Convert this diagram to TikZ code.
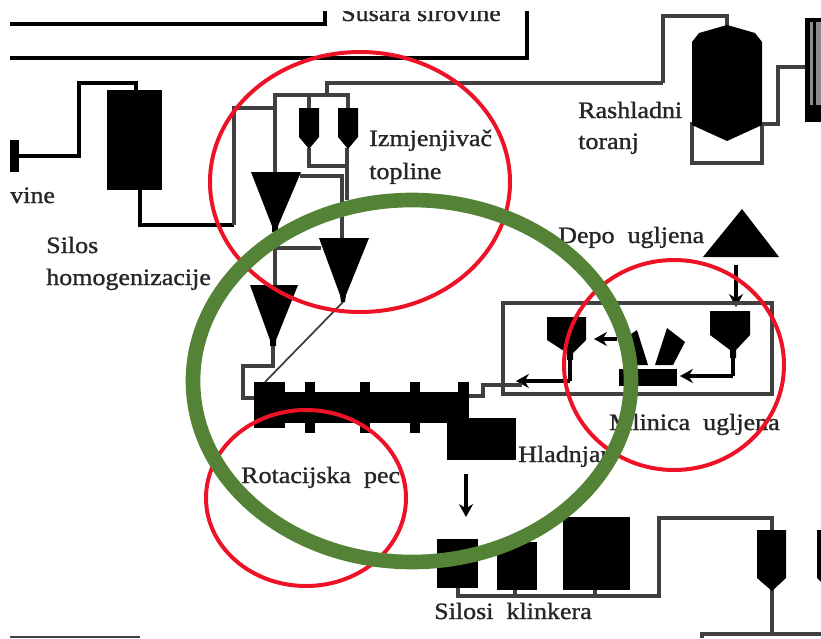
\documentclass[tikz,border=0pt]{standalone}
\usepackage{fontspec}
\usepackage{xcolor}
\setmainfont[FakeStretch=1.11,FakeBold=1.2]{Liberation Serif}
\definecolor{scheme}{rgb}{0.33,0.51,0.21}
\definecolor{ring}{rgb}{0.93,0.07,0.15}
\definecolor{pipecol}{rgb}{0.25,0.25,0.25}
\tikzset{
	pipe/.style={draw=pipecol,line width=2.6pt,line join=miter},
	heavy/.style={draw=black,line width=3.4pt},
	thinpipe/.style={draw=pipecol,line width=1.5pt},
	feed/.style={draw=black,line width=2.8pt,-{Stealth[length=11pt,width=12pt]}},
	solid block/.style={fill=black,draw=none,inner sep=0pt,anchor=north west},
	lbl/.style={font=\fontsize{20}{20}\selectfont,text=black!85,inner sep=0pt,anchor=base west},
	redring/.style={draw=ring,line width=3.4pt},
}
\usetikzlibrary{arrows.meta}

\begin{document}
\begin{tikzpicture}[x=0.03cm,y=-0.03cm]
	\useasboundingbox (0,0) rectangle (821,638);
	\clip (10,11) rectangle (821,638);

	% top frames
	\coordinate (t1) at (10,24);
	\coordinate (t2) at (325,24);
	\coordinate (t3) at (325,5);
	\coordinate (t4) at (10,58);
	\coordinate (t5) at (527,58);
	\coordinate (t6) at (527,5);
	\draw[heavy] (t1) -- (t2) -- (t3);
	\draw[heavy] (t4) -- (t5) -- (t6);
	\node[lbl] (susara) at (341,21) {Susara sirovine};

	% homogenisation silo
	\coordinate (s1) at (19,156);
	\coordinate (s2) at (79,156);
	\coordinate (s3) at (79,83);
	\coordinate (s4) at (136,83);
	\coordinate (s5) at (136,92);
	\coordinate (s6) at (140,188);
	\coordinate (s7) at (140,225);
	\coordinate (s8) at (234,225);
	\coordinate (s9) at (234,108);
	\coordinate (s10) at (275,108);
	\draw[heavy] (s1) -- (s2) -- (s3) -- (s4) -- (s5);
	\draw[heavy] (s6) -- (s7) -- (s8);
	\draw[pipe] (s8) -- (s9) -- (s10);
	\node[solid block,minimum width=9*0.03cm,minimum height=32*0.03cm] (stub) at (10,140) {};
	\node[solid block,minimum width=55*0.03cm,minimum height=100*0.03cm] (silo) at (107,90) {};
	\node[lbl] (vine) at (10,203) {vine};
	\node[lbl] (silos) at (46,253) {Silos};
	\node[lbl] (homog) at (46,285) {homogenizacije};

	% heat exchanger
	\coordinate (h1) at (663,83);
	\coordinate (h2) at (327,83);
	\coordinate (h3) at (327,95);
	\coordinate (h4) at (275,95);
	\coordinate (h5) at (348,95);
	\coordinate (h6) at (275,174);
	\coordinate (h7) at (309,95);
	\coordinate (h8) at (309,110);
	\coordinate (h9) at (348,110);
	\coordinate (h10) at (309,148);
	\coordinate (h11) at (309,166);
	\coordinate (h12) at (347,166);
	\coordinate (h13) at (347,148);
	\coordinate (h14) at (347,200);
	\coordinate (h15) at (300,176);
	\coordinate (h16) at (342,176);
	\coordinate (h17) at (342,240);
	\coordinate (h18) at (275,230);
	\coordinate (h19) at (275,287);
	\coordinate (h20) at (275,248);
	\coordinate (h21) at (321,248);
	\coordinate (h22) at (273,344);
	\coordinate (h23) at (273,366);
	\coordinate (h24) at (243,366);
	\coordinate (h25) at (243,398);
	\coordinate (h26) at (256,398);
	\coordinate (h27) at (343,302);
	\coordinate (h28) at (265,382);
	\draw[pipe] (h1) -- (h2) -- (h3);
	\draw[pipe] (h6) -- (h4) -- (h5) -- (h9);
	\draw[pipe] (h7) -- (h8);
	\draw[pipe] (h10) -- (h11) -- (h12);
	\draw[pipe] (h13) -- (h14);
	\draw[pipe] (h15) -- (h16) -- (h17);
	\draw[pipe] (h18) -- (h19);
	\draw[pipe] (h20) -- (h21);
	\draw[pipe] (h22) -- (h23) -- (h24) -- (h25) -- (h26);
	\draw[thinpipe] (h27) -- (h28);
	\fill (299,108) -- (319,108) -- (319,137) -- (309,149) -- (299,137) -- cycle;
	\fill (338,108) -- (358,108) -- (358,137) -- (348,149) -- (338,137) -- cycle;
	\fill (251,172) -- (301,172) -- (278,226) -- (278,232) -- (272,232) -- (272,226) -- cycle;
	\fill (319,238) -- (369,238) -- (346,295) -- (345,302) -- (341,302) -- (340,295) -- cycle;
	\fill (250,285) -- (298,285) -- (276,340) -- (276,346) -- (270,346) -- (270,340) -- cycle;
	\node[lbl] (izmj) at (369,146) {Izmjenjivač};
	\node[lbl] (topl) at (369,179) {topline};

	% cooling tower
	\coordinate (r1) at (663,83);
	\coordinate (r2) at (663,16);
	\coordinate (r3) at (727,16);
	\coordinate (r4) at (727,27);
	\coordinate (r5) at (692,122);
	\coordinate (r6) at (692,163);
	\coordinate (r7) at (762,163);
	\coordinate (r8) at (762,122);
	\coordinate (r9) at (762,124);
	\coordinate (r10) at (778,124);
	\coordinate (r11) at (778,67);
	\coordinate (r12) at (806,67);
	\draw[pipe] (r1) -- (r2) -- (r3) -- (r4);
	\draw[pipe] (r5) -- (r6) -- (r7) -- (r8);
	\draw[pipe] (r9) -- (r10) -- (r11) -- (r12);
	\fill (727,25) -- (755,33) -- (762,42) -- (762,125) -- (727,141) -- (692,125) -- (692,42) -- (699,33) -- cycle;
	\node[lbl] (rash) at (578,118) {Rashladni};
	\node[lbl] (tor) at (578,149) {toranj};
	\node[solid block,minimum width=16*0.03cm,minimum height=104*0.03cm] (grid) at (805,18) {};
	\fill[black!45] (810,22) rectangle (813,105);
	\fill[black!45] (816,22) rectangle (821,105);

	% coal
	\fill (742,209) -- (779,257) -- (703,257) -- cycle;
	\node[lbl] (depo) at (558,243) {Depo\ \ ugljena};
	\coordinate (c1) at (736,265);
	\coordinate (c2) at (736,307);
	\draw[feed] (c1) -- (c2);
	\coordinate (b1) at (503,303);
	\coordinate (b2) at (772,303);
	\coordinate (b3) at (772,394);
	\coordinate (b4) at (503,394);
	\draw[pipe] (b1) -- (b2) -- (b3) -- (b4) -- cycle;
	\fill (710,311) -- (750,311) -- (750,335) -- (736,350) -- (736,358) -- (730,358) -- (730,350) -- (710,335) -- cycle;
	\fill (547,317) -- (586,317) -- (586,340) -- (573,353) -- (573,360) -- (567,360) -- (567,353) -- (547,340) -- cycle;
	\node[solid block,minimum width=58*0.03cm,minimum height=17*0.03cm] (mill) at (619,369) {};
	\fill (667,328) -- (685,342) -- (673,365) -- (655,365) -- cycle;
	\fill (622,340) -- (637,330) -- (648,365) -- (630,365) -- cycle;
	\coordinate (c3) at (733,350);
	\coordinate (c4) at (733,376);
	\coordinate (c5) at (680,376);
	\draw[line width=3pt] (c3) -- (c4);
	\draw[feed] (c4) -- (c5);
	\coordinate (c6) at (617,339);
	\coordinate (c7) at (594,339);
	\draw[feed] (c6) -- (c7);
	\coordinate (c8) at (570,355);
	\coordinate (c9) at (570,381);
	\coordinate (c10) at (516,381);
	\draw[line width=3pt] (c8) -- (c9);
	\draw[feed] (c9) -- (c10);
	\coordinate (c11) at (469,396);
	\coordinate (c12) at (483,396);
	\coordinate (c13) at (483,385);
	\coordinate (c14) at (522,385);
	\draw[pipe] (c11) -- (c12) -- (c13) -- (c14);
	\node[lbl] (mlin) at (609,430) {Mlinica\ \ ugljena};

	% kiln
	\node[solid block,minimum width=31*0.03cm,minimum height=46*0.03cm] (k1) at (254,382) {};
	\node[solid block,minimum width=215*0.03cm,minimum height=31*0.03cm] (k2) at (254,392) {};
	\node[solid block,minimum width=10*0.03cm,minimum height=51*0.03cm] (k3) at (305,382) {};
	\node[solid block,minimum width=10*0.03cm,minimum height=51*0.03cm] (k4) at (360,382) {};
	\node[solid block,minimum width=10*0.03cm,minimum height=51*0.03cm] (k5) at (410,382) {};
	\node[solid block,minimum width=11*0.03cm,minimum height=40*0.03cm] (k6) at (458,382) {};
	\node[solid block,minimum width=69*0.03cm,minimum height=42*0.03cm] (cool) at (447,418) {};
	\node[lbl] (hlad) at (518,462) {Hladnjar};
	\node[lbl] (rot) at (241,483) {Rotacijska\ \ pec};
	\coordinate (d1) at (466,474);
	\coordinate (d2) at (466,517);
	\draw[feed] (d1) -- (d2);

	% clinker silos
	\node[solid block,minimum width=41*0.03cm,minimum height=49*0.03cm] (k7) at (437,539) {};
	\node[solid block,minimum width=40*0.03cm,minimum height=48*0.03cm] (k8) at (497,542) {};
	\node[solid block,minimum width=67*0.03cm,minimum height=73*0.03cm] (k9) at (563,517) {};
	\coordinate (e1) at (458,588);
	\coordinate (e2) at (458,596);
	\coordinate (e3) at (659,596);
	\coordinate (e4) at (659,518);
	\coordinate (e5) at (772,518);
	\coordinate (e6) at (772,532);
	\coordinate (e7) at (515,590);
	\coordinate (e8) at (515,596);
	\coordinate (e9) at (595,590);
	\coordinate (e10) at (595,596);
	\coordinate (e11) at (772,588);
	\coordinate (e12) at (772,634);
	\coordinate (e13) at (702,638);
	\coordinate (e14) at (702,634);
	\coordinate (e15) at (821,634);
	\draw[pipe] (e1) -- (e2) -- (e3) -- (e4) -- (e5) -- (e6);
	\draw[pipe] (e7) -- (e8);
	\draw[pipe] (e9) -- (e10);
	\draw[pipe] (e11) -- (e12);
	\draw[pipe] (e13) -- (e14) -- (e15);
	\fill (757,530) -- (786,530) -- (786,578) -- (772,591) -- (757,578) -- cycle;
	\fill (817,530) -- (821,530) -- (821,582) -- (817,578) -- cycle;
	\node[lbl] (klink) at (434,619) {Silosi\ \ klinkera};
	\coordinate (f1) at (10,637);
	\coordinate (f2) at (140,637);
	\draw[thinpipe] (f1) -- (f2);

	% rings
	\draw[redring] (360,182) ellipse (150 and 130);
	\draw[redring] (674,365) ellipse (110 and 105);
	\draw[redring] (306,498) ellipse (100 and 88);
	\draw[draw=scheme,line width=12.5pt] (412,381) ellipse (219 and 181);
\end{tikzpicture}
\end{document}
